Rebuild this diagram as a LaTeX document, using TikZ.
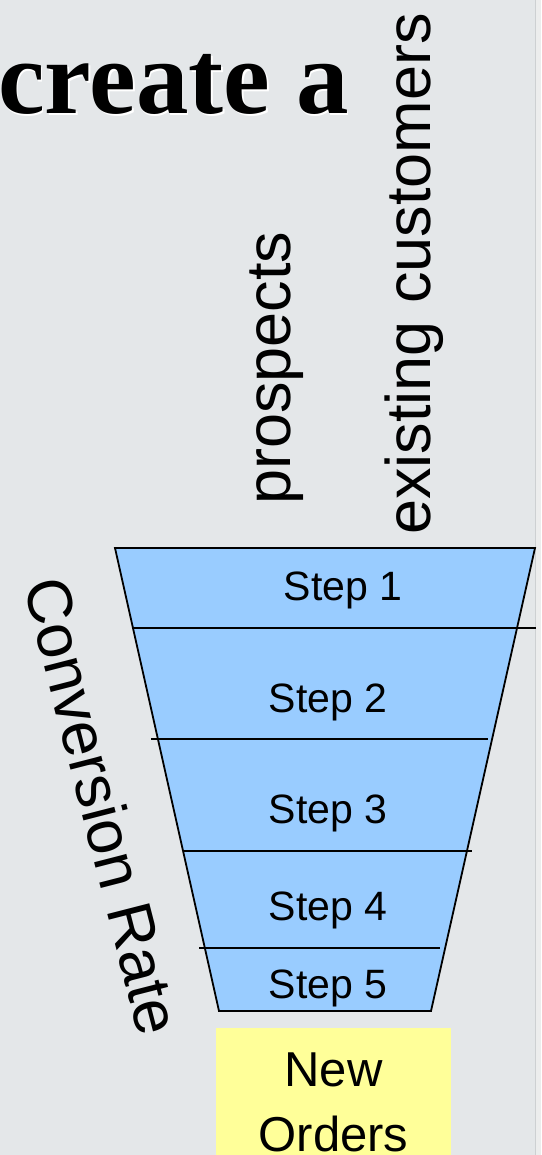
\documentclass[tikz,border=0pt]{standalone}
\usepackage{fontspec}
\setmainfont{Liberation Sans}
\newfontfamily\titleserif{Liberation Serif}
\definecolor{bgcol}{RGB}{228,231,233}
\definecolor{stripcol}{RGB}{236,237,237}
\definecolor{edgecol}{RGB}{205,208,210}
\definecolor{funnelblue}{RGB}{153,204,255}
\definecolor{orderyellow}{RGB}{255,255,153}
\begin{document}
\begin{tikzpicture}[x=1pt,y=-1pt,
  steplabel/.style={inner sep=0pt,anchor=base,font=\fontsize{41}{49}\selectfont},
  sidelabel/.style={inner sep=0pt,anchor=base west,font=\fontsize{63}{75}\selectfont},
  titlefont/.style={inner sep=0pt,anchor=base west,font=\titleserif\bfseries\fontsize{105}{115}\selectfont},
  divider/.style={line width=1.8pt,black},
  funnelshape/.style={fill=funnelblue,draw=black,line width=1.8pt,line join=miter}]
\useasboundingbox (0,0) rectangle (541,1155);
\fill[bgcol] (0,0) rectangle (541,1155);
\fill[stripcol] (535,0) rectangle (541,1155);
\draw[edgecol,line width=1pt] (535,0) -- (535,1155);
% title
\node[titlefont,white] (titleshadow) at (-0.5,116) {create a};
\node[titlefont] (title) at (-2,114) {create a};
% vertical labels
\node[sidelabel,rotate=90] (prospects) at (290,505) {prospects};
\node[sidelabel,rotate=90] (existing) at (430,535) {existing customers};
\node[sidelabel,rotate=-75.6] (conv) at (23,584) {Conversion Rate};
% funnel
\path[funnelshape] (115,548) coordinate (ftl) -- (535,548) coordinate (ftr) -- (431,1011) coordinate (fbr) -- (219,1011) coordinate (fbl) -- cycle;
\coordinate (d1a) at (133,628); \coordinate (d1b) at (536,628);
\coordinate (d2a) at (151,739); \coordinate (d2b) at (488,739);
\coordinate (d3a) at (183,851); \coordinate (d3b) at (472,851);
\coordinate (d4a) at (199,948); \coordinate (d4b) at (440,948);
\draw[divider] (d1a) -- (d1b);
\draw[divider] (d2a) -- (d2b);
\draw[divider] (d3a) -- (d3b);
\draw[divider] (d4a) -- (d4b);
\node[steplabel] (s1) at (343,600) {Step 1};
\node[steplabel] (s2) at (328,712) {Step 2};
\node[steplabel] (s3) at (328,823) {Step 3};
\node[steplabel] (s4) at (328,920) {Step 4};
\node[steplabel] (s5) at (328,998) {Step 5};
% new orders
\fill[orderyellow] (216,1028) rectangle (451,1160);
\node[inner sep=0pt,anchor=north,align=center,font=\fontsize{49}{65}\selectfont] (orders) at (333.5,1053) {New\\Orders};
\end{tikzpicture}
\end{document}
